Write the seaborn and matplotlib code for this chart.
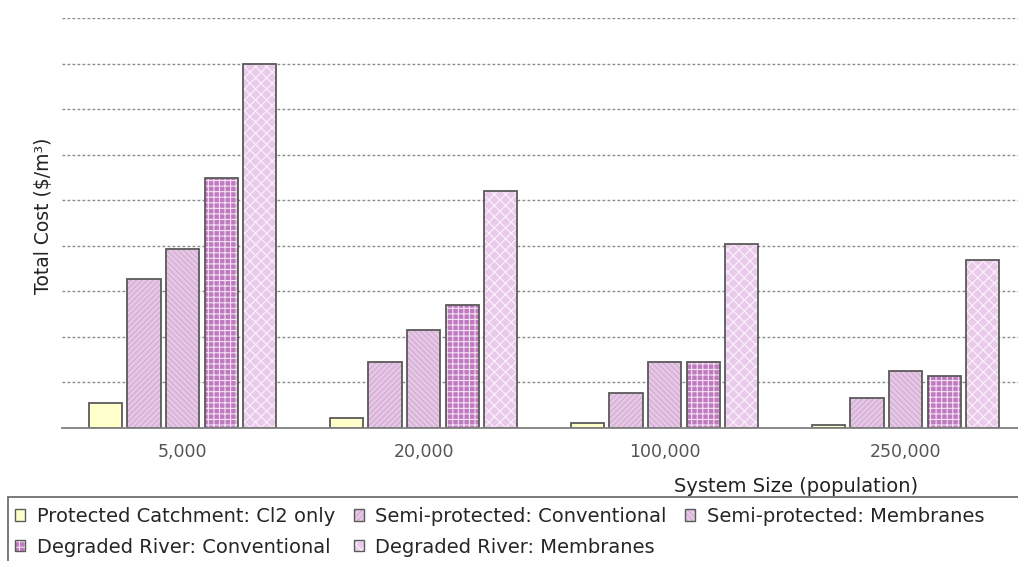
import matplotlib
matplotlib.use('Agg')
import matplotlib.pyplot as plt
import seaborn as sns
import pandas as pd
from matplotlib.patches import Patch, Rectangle

# data (units = gridline steps)
sizes = ['5,000', '20,000', '100,000', '250,000']
schemes = ['Protected Catchment: Cl2 only', 'Semi-protected: Conventional',
           'Semi-protected: Membranes', 'Degraded River: Conventional',
           'Degraded River: Membranes']
protected = [0.55, 0.23, 0.12, 0.07]
semi_conv = [3.28, 1.46, 0.77, 0.66]
semi_mem = [3.93, 2.16, 1.45, 1.25]
degraded_conv = [5.49, 2.71, 1.45, 1.14]
degraded_mem = [8.0, 5.2, 4.04, 3.68]

series = [protected, semi_conv, semi_mem, degraded_conv, degraded_mem]
rows = []
for name, vals in zip(schemes, series):
    for s, v in zip(sizes, vals):
        rows.append({'size': s, 'scheme': name, 'cost': v})
df = pd.DataFrame(rows)

faces = ['#FFFFCC', '#E6C8E6', '#E6C8E6', '#C07AC0', '#EACAEA']
hatches = [None, '//////', '\\\\\\\\\\\\', '+++', 'xxx']
hatch_cols = ['#FFFFCC', '#D0AAD0', '#D0AAD0', '#F4E2F4', '#FBF3FB']
edge = '#5A5A5A'

sns.set_style('white')
plt.rcParams['font.family'] = ['DejaVu Sans']
plt.rcParams['hatch.linewidth'] = 0.8

fig = plt.figure(figsize=(10.18, 5.61), dpi=100)
ax = fig.add_axes([0.061, 0.237, 0.947, 0.731])

sns.barplot(data=df, x='size', y='cost', hue='scheme', order=sizes, hue_order=schemes,
            palette=faces, width=0.8, gap=0.14, legend=False, ax=ax, zorder=3)

for i, cont in enumerate(ax.containers):
    for p in cont.patches:
        p.set_facecolor(faces[i])
        if hatches[i]:
            p.set_hatch(hatches[i])
        p.set_edgecolor(hatch_cols[i])
        p.set_linewidth(0)
        ax.add_patch(Rectangle(p.get_xy(), p.get_width(), p.get_height(), fill=False,
                               edgecolor=edge, linewidth=1.3, zorder=4))

ax.set_xlim(-0.5, 3.5)
ax.set_ylim(0, 9)
ax.set_yticks(range(1, 10))
ax.set_yticklabels([])
ax.tick_params(axis='y', length=0)
ax.yaxis.grid(True, color='#8A8A8A', linestyle=(0, (2.0, 1.6)), linewidth=1.0, zorder=0)
ax.xaxis.grid(False)
for s in ['top', 'right', 'left']:
    ax.spines[s].set_visible(False)
ax.spines['bottom'].set_color('#808080')
ax.spines['bottom'].set_linewidth(1.3)
ax.spines['bottom'].set_zorder(5)

ax.set_xticks(range(len(sizes)))
ax.set_xticklabels(sizes, color='#555555', fontsize=12.5)
ax.set_xticks([-0.5, 0.5, 1.5, 2.5, 3.5], minor=True)
ax.tick_params(axis='x', which='major', length=0, pad=11)
ax.tick_params(axis='x', which='minor', length=4, width=1, color='#808080', direction='out')
ax.set_xlabel('')

ax.set_ylabel('Total Cost (\\$/m³)', fontsize=13.5, color='#222222')
ax.yaxis.set_label_coords(-0.009, 0.518)

fig.text(796 / 1018, (561 - 486) / 561, 'System Size (population)', ha='center', va='center',
         fontsize=14, color='#222222')

handles = []
for i in range(len(schemes)):
    fill = Patch(facecolor=faces[i], hatch=hatches[i], edgecolor=hatch_cols[i], linewidth=0)
    outline = Patch(facecolor='none', edgecolor=edge, linewidth=1)
    handles.append((fill, outline))
order = [0, 3, 1, 4, 2]
leg = fig.legend([handles[i] for i in order], [schemes[i] for i in order],
                 loc='upper left', bbox_to_anchor=(15 / 1018, (561 - 507) / 561),
                 ncol=3, fontsize=14, frameon=False, borderaxespad=0, borderpad=0,
                 handlelength=0.52, handleheight=0.52, handletextpad=0.6, columnspacing=0.95,
                 labelspacing=0.6)

# legend box, running off the right and bottom edges as in the original
fig.add_artist(Rectangle((8 / 1018, -0.05), 1.0, (561 - 497) / 561 + 0.05,
                         transform=fig.transFigure, fill=False, edgecolor='#707070',
                         linewidth=1.3))

fig.savefig('out.png', dpi=100)
